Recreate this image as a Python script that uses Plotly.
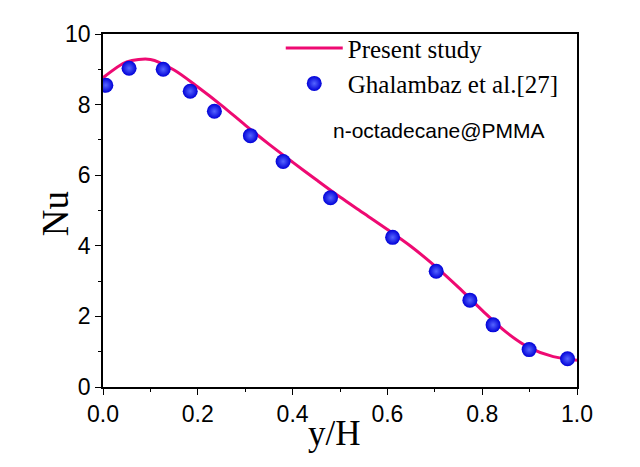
import plotly.graph_objects as go

# Present study (line)
line_x = [0.0, 0.05, 0.10, 0.15, 0.20, 0.25, 0.30, 0.35, 0.40, 0.45, 0.50, 0.55, 0.60, 0.65, 0.70, 0.75, 0.80, 0.85, 0.90, 0.95, 1.00]
line_y = [8.76, 9.21, 9.28, 8.98, 8.50, 7.98, 7.42, 6.88, 6.37, 5.87, 5.38, 4.92, 4.46, 3.98, 3.43, 2.82, 2.17, 1.56, 1.11, 0.86, 0.76]

# Ghalambaz et al. [27] (points)
pt_x = [0.006, 0.055, 0.127, 0.184, 0.235, 0.311, 0.380, 0.480, 0.611, 0.703, 0.774, 0.823, 0.899, 0.980]
pt_y = [8.55, 9.03, 9.00, 8.38, 7.81, 7.12, 6.39, 5.36, 4.24, 3.28, 2.46, 1.76, 1.06, 0.80]

x_ticks = [0.0, 0.2, 0.4, 0.6, 0.8, 1.0]
y_ticks = [0, 2, 4, 6, 8, 10]

fig = go.Figure()
fig.add_trace(go.Scatter(
    x=line_x, y=line_y, mode="lines", name="Present study",
    line=dict(color="#EE0A72", width=3, shape="spline", smoothing=0.8),
))
fig.add_trace(go.Scatter(
    x=pt_x, y=pt_y, mode="markers", name="Ghalambaz et al.[27]",
    marker=dict(size=15, color="#0000D8",
                gradient=dict(type="radial", color="#5565FF"),
                line=dict(width=0)),
))

serif = "Liberation Serif, Times New Roman, serif"
sans = "Liberation Sans, Arial, sans-serif"

fig.add_annotation(
    x=0.709, y=0.728, xref="paper", yref="paper",
    text="n-octadecane@PMMA", showarrow=False,
    xanchor="center", yanchor="middle",
    font=dict(family=sans, size=21, color="black"),
)
fig.add_annotation(
    x=-0.101, y=0.49, xref="paper", yref="paper",
    text="Nu", showarrow=False, textangle=-90,
    xanchor="center", yanchor="middle",
    font=dict(family=serif, size=37, color="black"),
)
fig.add_annotation(
    x=0.489, y=-0.133, xref="paper", yref="paper",
    text="y/H", showarrow=False,
    xanchor="center", yanchor="middle",
    font=dict(family=serif, size=35, color="black"),
)

axis_common = dict(
    showline=True, linecolor="black", linewidth=1.6, mirror=True,
    ticks="outside", ticklen=6, tickwidth=1.2, tickcolor="black",
    showgrid=False, zeroline=False,
    tickfont=dict(family=sans, size=23, color="black"),
)

fig.update_xaxes(
    range=[0, 1], tickvals=x_ticks, ticktext=[f"{v:.1f}" for v in x_ticks],
    minor=dict(ticks="outside", ticklen=3, dtick=0.1, tickcolor="black", tickwidth=1.2),
    **axis_common,
)
fig.update_yaxes(
    range=[0, 10], tickvals=y_ticks, ticktext=[str(v) for v in y_ticks],
    minor=dict(ticks="outside", ticklen=3, dtick=1, tickcolor="black", tickwidth=1.2),
    **axis_common,
)

fig.update_layout(
    width=632, height=459,
    margin=dict(l=95, r=63, t=26, b=80),
    paper_bgcolor="white", plot_bgcolor="white",
    showlegend=True,
    legend=dict(x=0.375, y=1.025, xanchor="left", yanchor="top",
                bgcolor="rgba(0,0,0,0)", itemwidth=57,
                font=dict(family=serif, size=25, color="black")),
)

fig.write_html("out.html")
